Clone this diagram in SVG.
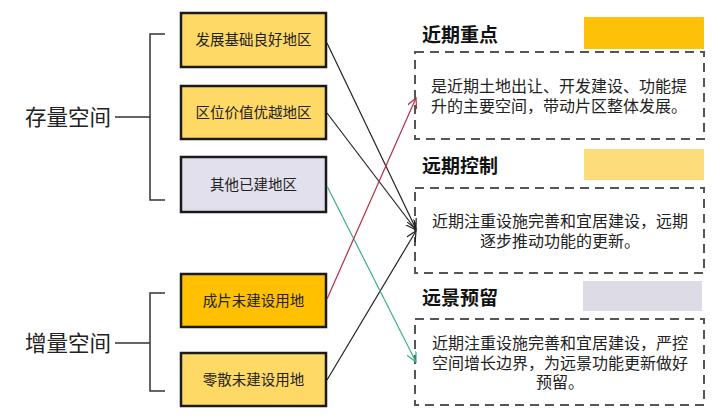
<svg xmlns="http://www.w3.org/2000/svg" width="720" height="420" viewBox="0 0 720 420">
<defs>
<style>
.box{stroke:#1a1a1a;stroke-width:2.5}
.bt{font-family:"Noto Sans CJK SC","Noto Sans",sans-serif;font-size:14.5px;fill:#222;text-anchor:middle}
.big{font-family:"Noto Sans CJK SC","Noto Sans",sans-serif;font-size:21.5px;fill:#222}
.ttl{font-family:"Noto Sans CJK SC","Noto Sans",sans-serif;font-size:19px;font-weight:bold;fill:#111}
.dash{fill:none;stroke:#555;stroke-width:2;stroke-dasharray:9,6}
.dt{font-family:"Noto Sans CJK SC","Noto Sans",sans-serif;font-size:16px;fill:#222}
.brk{fill:none;stroke:#333;stroke-width:1.5}
.con{fill:none;stroke-width:1.2}
</style>
<marker id="ab" markerWidth="12" markerHeight="12" refX="10" refY="5" orient="auto" markerUnits="userSpaceOnUse"><path d="M0,0 L10,5 L0,10" fill="none" stroke="#222" stroke-width="1.2"/></marker>
<marker id="ar" markerWidth="12" markerHeight="12" refX="10" refY="5" orient="auto" markerUnits="userSpaceOnUse"><path d="M0,0 L10,5 L0,10" fill="none" stroke="#b0304a" stroke-width="1.2"/></marker>
<marker id="ag" markerWidth="12" markerHeight="12" refX="10" refY="5" orient="auto" markerUnits="userSpaceOnUse"><path d="M0,0 L10,5 L0,10" fill="none" stroke="#3cb08a" stroke-width="1.2"/></marker>
</defs>
<rect width="720" height="420" fill="#fff"/>

<g id="stock">
<text class="big" x="25" y="125">存量空间</text>
<path class="brk" d="M115,117 H150 M165,34 H150 V200 H165"/>
</g>
<g id="incr">
<text class="big" x="25" y="351">增量空间</text>
<path class="brk" d="M115,343 H150 M165,293 H150 V391 H165"/>
</g>

<g id="n1"><rect class="box" x="181" y="13" width="145" height="54" fill="#ffd966"/><text class="bt" x="253.5" y="45">发展基础良好地区</text></g>
<g id="n2"><rect class="box" x="181" y="86" width="145" height="53" fill="#ffd966"/><text class="bt" x="253.5" y="118">区位价值优越地区</text></g>
<g id="n3"><rect class="box" x="181" y="157" width="145" height="55" fill="#e2e0ec"/><text class="bt" x="253.5" y="190">其他已建地区</text></g>
<g id="n4"><rect class="box" x="181" y="274" width="145" height="53" fill="#ffc000"/><text class="bt" x="253.5" y="306">成片未建设用地</text></g>
<g id="n5"><rect class="box" x="181" y="353" width="145" height="53" fill="#ffd966"/><text class="bt" x="253.5" y="385">零散未建设用地</text></g>

<g id="near">
<text class="ttl" x="422" y="42">近期重点</text>
<rect x="584" y="17" width="120" height="32" fill="#fdc10a"/>
<rect class="dash" x="415" y="52" width="289" height="87"/>
<text class="dt" x="431" y="92">是近期土地出让、开发建设、功能提</text>
<text class="dt" x="431" y="112">升的主要空间，带动片区整体发展。</text>
</g>
<g id="far">
<text class="ttl" x="422" y="173">远期控制</text>
<rect x="584" y="149" width="120" height="31" fill="#fddc7c"/>
<rect class="dash" x="415" y="188" width="289" height="85"/>
<text class="dt" x="560" y="227" text-anchor="middle">近期注重设施完善和宜居建设，远期</text>
<text class="dt" x="560" y="247" text-anchor="middle">逐步推动功能的更新。</text>
</g>
<g id="vision">
<text class="ttl" x="422" y="305">远景预留</text>
<rect x="583" y="281" width="119" height="30" fill="#dddbe5"/>
<rect class="dash" x="415" y="319" width="289" height="86"/>
<text class="dt" x="560" y="349" text-anchor="middle">近期注重设施完善和宜居建设，严控</text>
<text class="dt" x="560" y="369" text-anchor="middle">空间增长边界，为远景功能更新做好</text>
<text class="dt" x="560" y="388" text-anchor="middle">预留。</text>
</g>

<g id="connectors">
<path class="con" d="M327,43 L416,229" stroke="#222" marker-end="url(#ab)"/>
<path class="con" d="M327,113 L416,230" stroke="#222" marker-end="url(#ab)"/>
<path class="con" d="M327,380 L416,231" stroke="#222" marker-end="url(#ab)"/>
<path class="con" d="M327,186 L416,362" stroke="#3cb08a" marker-end="url(#ag)"/>
<path class="con" d="M327,299 L416,98" stroke="#b0304a" marker-end="url(#ar)"/>
</g>
</svg>
